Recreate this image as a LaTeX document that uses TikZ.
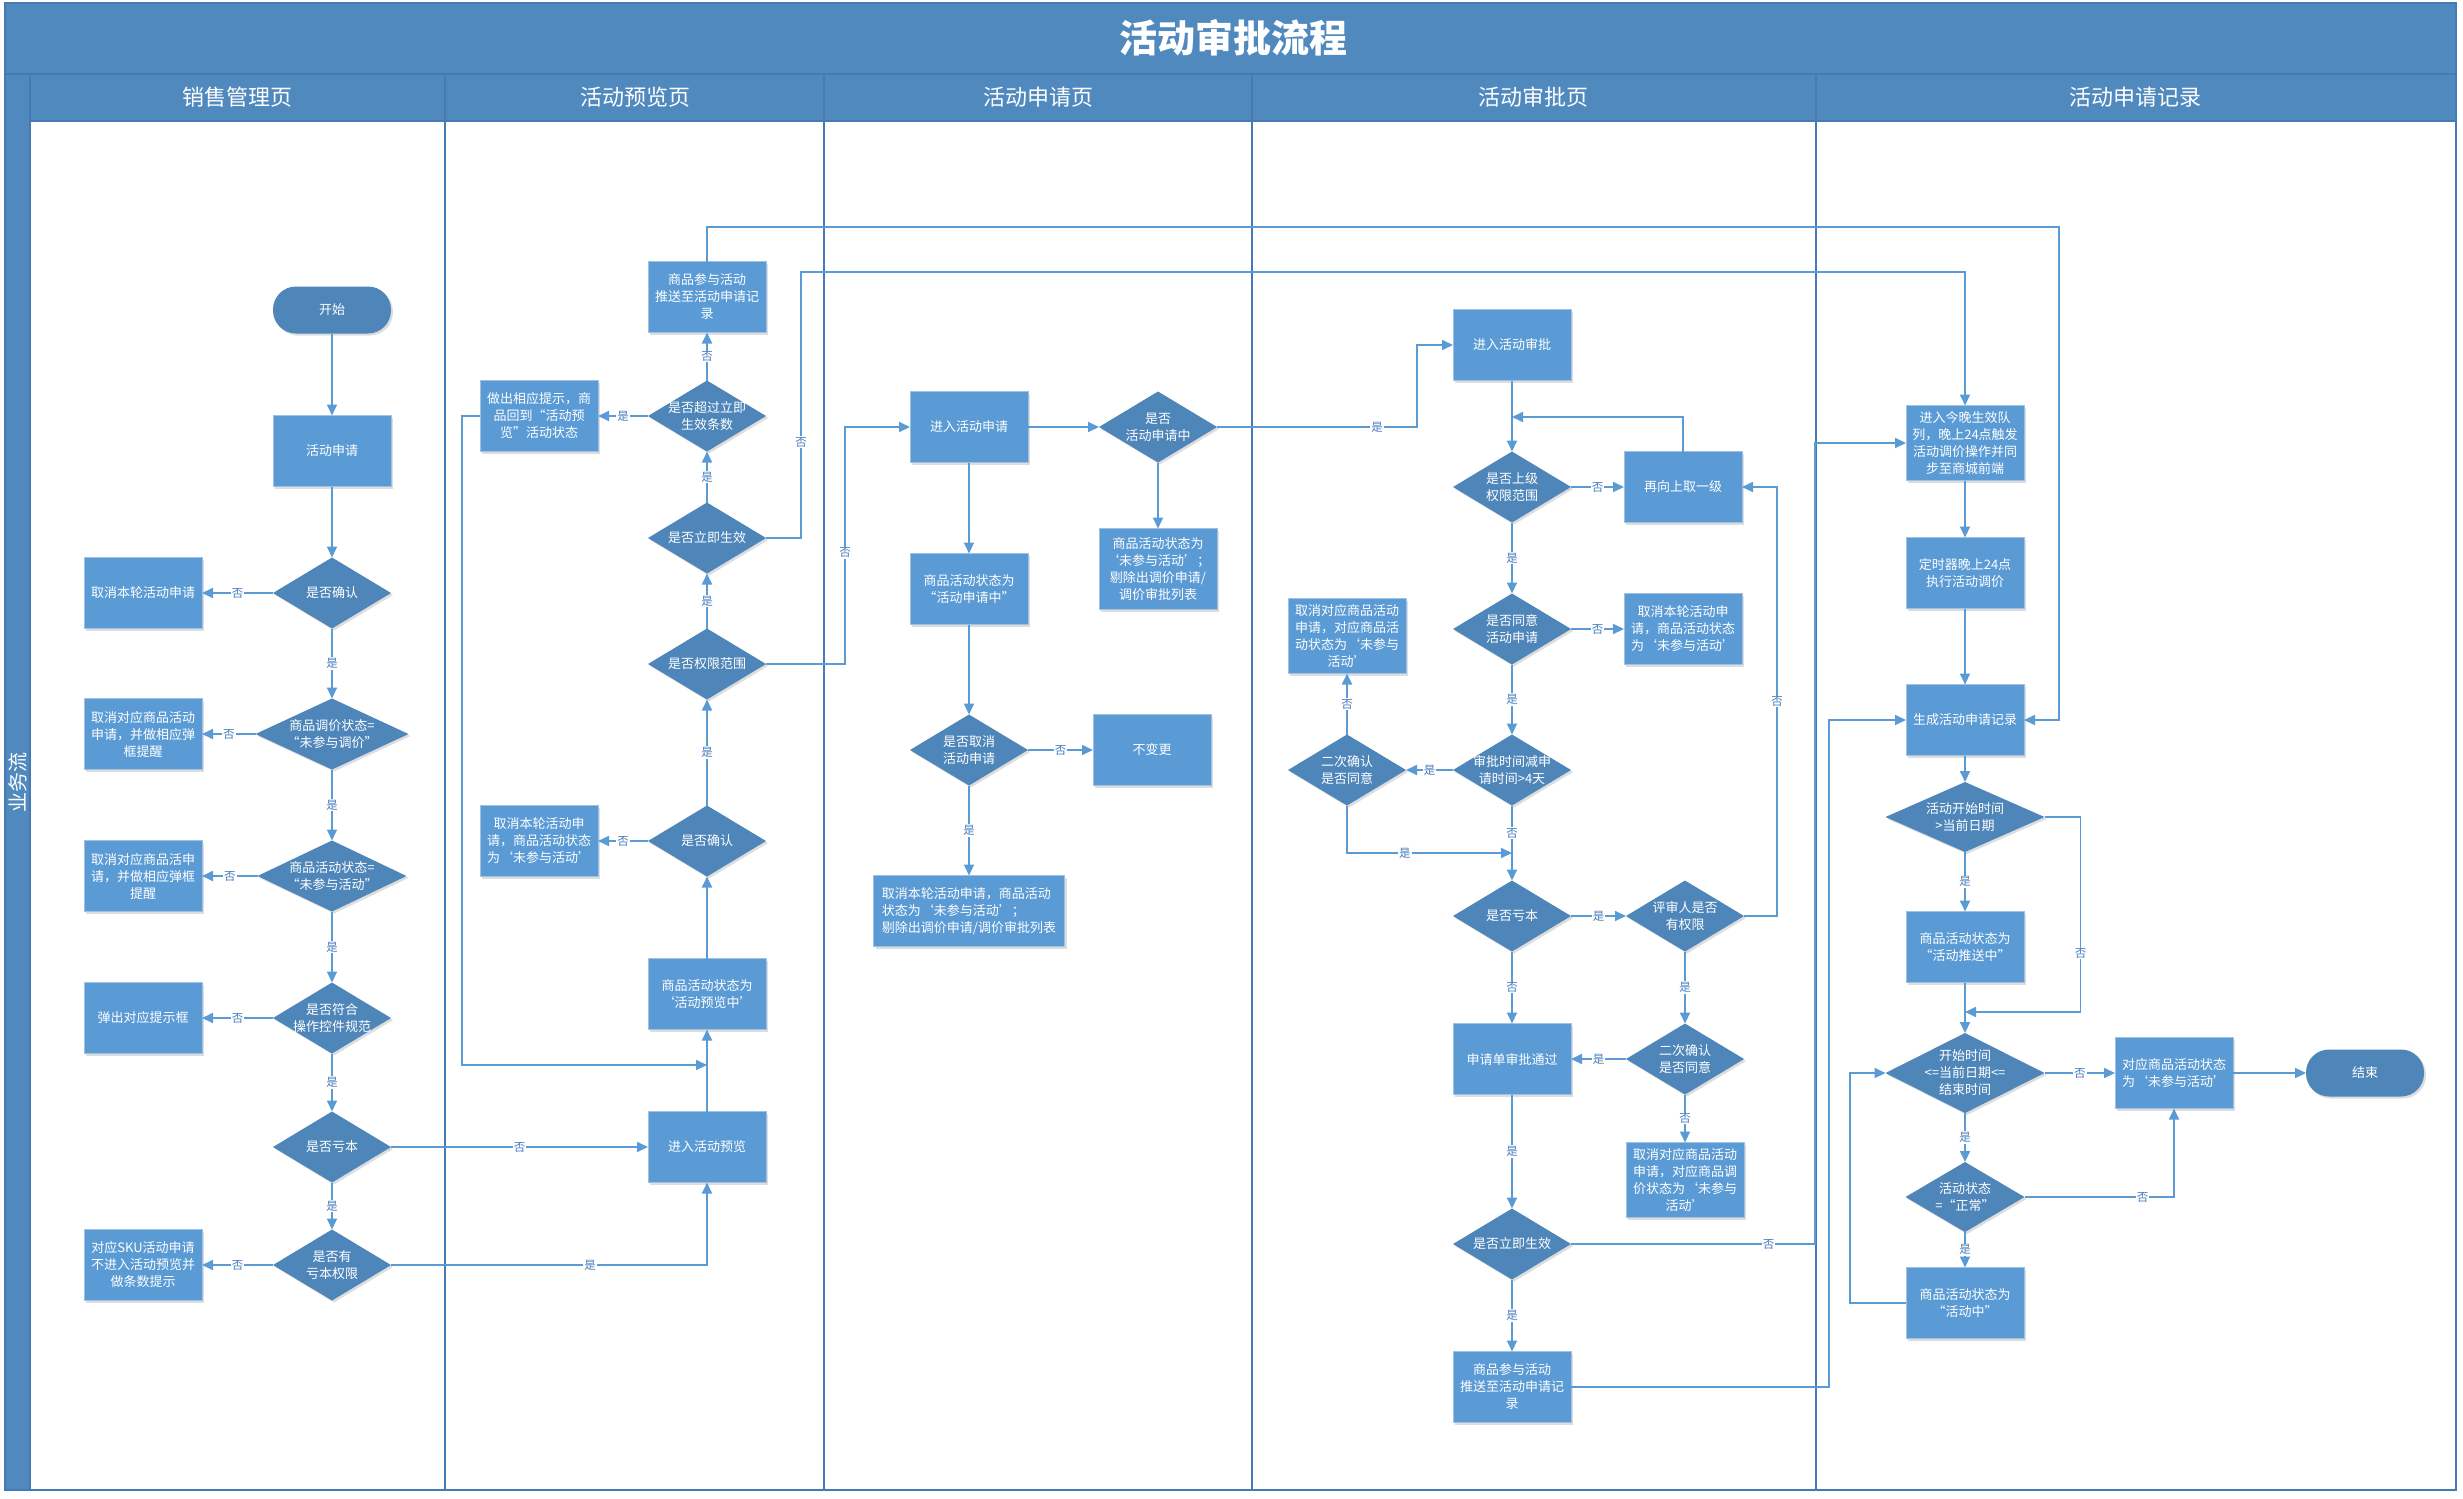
\documentclass[tikz,border=0pt]{standalone}
\usepackage{fontspec}
\setmainfont{Noto Sans CJK SC}
\usetikzlibrary{arrows.meta,shapes.geometric,shadows,calc}
\definecolor{titleblue}{RGB}{80,137,190}
\definecolor{gridc}{RGB}{70,122,180}
\definecolor{boxblue}{RGB}{91,155,213}
\definecolor{boxedge}{RGB}{160,192,228}
\definecolor{diablue}{RGB}{78,134,186}
\definecolor{lineblue}{RGB}{91,155,213}
\definecolor{lblblue}{RGB}{70,125,190}
\tikzset{
  box/.style={rectangle, fill=boxblue, draw=boxedge, line width=0.8pt, minimum width=118pt, minimum height=71pt, text=white, align=center, font=\fontsize{13}{17}\selectfont, inner sep=2pt, outer sep=0pt, drop shadow={shadow xshift=2pt,shadow yshift=-2pt,opacity=0.22,fill=black!60}},
  diam/.style={diamond, fill=diablue, inner sep=0pt, outer sep=0pt, minimum width=118pt, minimum height=71pt, drop shadow={shadow xshift=2pt,shadow yshift=-2pt,opacity=0.22,fill=black!60}},
  dtext/.style={text=white, align=center, font=\fontsize{13}{17}\selectfont, inner sep=0pt},
  termnode/.style={rectangle, rounded corners=23pt, fill=diablue, minimum width=118pt, minimum height=47pt, text=white, font=\fontsize{13}{17}\selectfont, outer sep=0pt, drop shadow={shadow xshift=2pt,shadow yshift=-2pt,opacity=0.22,fill=black!60}},
  conn/.style={draw=lineblue, line width=1.8pt, -{Triangle[length=11pt,width=10pt]}},
  lbl/.style={fill=white, text=lblblue, font=\fontsize{11.5}{11.5}\selectfont, inner sep=1pt},
  lanehead/.style={text=white, font=\fontsize{22}{22}\selectfont},
}
\newcommand\dnode[4][]{\node[diam,#1] (#2) at (#3) {}; \node[dtext] at (#2.center) {#4};}
\begin{document}
\begin{tikzpicture}[x=1pt,y=-1pt]
\useasboundingbox (0,0) rectangle (2463,1499);
\fill[white] (0,0) rectangle (2463,1499);
% frame
\fill[titleblue] (5,3) rectangle (2456,121);
\fill[titleblue] (5,3) rectangle (30,1490);
\draw[gridc, line width=1.5pt] (5,3) rectangle (2456,1490);
\draw[gridc, line width=1.2pt] (5,74) -- (2456,74);
\draw[gridc, line width=1.5pt] (30,74) -- (30,1490);
\draw[gridc, line width=1.5pt] (30,121) -- (2456,121);
\foreach \xx in {445,824,1252,1816} {\draw[gridc, line width=2.2pt] (\xx,74) -- (\xx,1490);}
\node[text=white, font=\bfseries\fontsize{38}{38}\selectfont] (title) at (1233,38) {活动审批流程};
\node[lanehead] (h1) at (237,97) {销售管理页};
\node[lanehead] (h2) at (635,97) {活动预览页};
\node[lanehead] (h3) at (1038,97) {活动申请页};
\node[lanehead] (h4) at (1533,97) {活动审批页};
\node[lanehead] (h5) at (2135,97) {活动申请记录};
\node[text=white, font=\fontsize{20}{20}\selectfont, rotate=90] (band) at (18,782) {业务流};

% ---------- lane 1
\node[termnode] (kaishi) at (332,310) {开始};
\node[box] (sq) at (332,451) {活动申请};
\dnode{qr1}{332,593}{是否确认}
\node[box] (qx1) at (143,593) {取消本轮活动申请};
\dnode[minimum width=153pt]{tj}{332,734}{商品调价状态=\\“未参与调价”}
\node[box] (qx1b) at (143,734) {取消对应商品活动\\申请，并做相应弹\\框提醒};
\dnode[minimum width=149pt]{zt}{332,876}{商品活动状态=\\“未参与活动”}
\node[box] (qx1c) at (143,876) {取消对应商品活申\\请，并做相应弹框\\提醒};
\dnode{fh}{332,1018}{是否符合\\操作控件规范}
\node[box] (tc) at (143,1018) {弹出对应提示框};
\dnode{kb1}{332,1147}{是否亏本}
\dnode{yq}{332,1265}{是否有\\亏本权限}
\node[box] (sku) at (143,1265) {对应SKU活动申请\\不进入活动预览并\\做条数提示};

% ---------- lane 2
\node[box] (cy2) at (707,297) {商品参与活动\\推送至活动申请记\\录};
\dnode{cg}{707,416}{是否超过立即\\生效条数}
\node[box] (zc2) at (539,416) {做出相应提示，商\\品回到“活动预\\览”活动状态};
\dnode{lz2}{707,538}{是否立即生效}
\dnode{qx2}{707,664}{是否权限范围}
\dnode{qr2}{707,841}{是否确认}
\node[box] (qxb2) at (539,841) {取消本轮活动申\\请，商品活动状态\\为‘未参与活动’};
\node[box] (ylz) at (707,994) {商品活动状态为\\‘活动预览中’};
\node[box] (jryl) at (707,1147) {进入活动预览};
\coordinate (m1) at (707,1065);

% ---------- lane 3
\node[box] (jrsq) at (969,427) {进入活动申请};
\dnode{sqz}{1158,427}{是否\\活动申请中}
\node[box, minimum height=81pt] (wcy3) at (1158,569) {商品活动状态为\\‘未参与活动’；\\剔除出调价申请/\\调价审批列表};
\node[box] (sqzt) at (969,589) {商品活动状态为\\“活动申请中”};
\dnode{qxsq}{969,750}{是否取消\\活动申请}
\node[box] (bbg) at (1152,750) {不变更};
\node[box, minimum width=191pt, align=left] (qx3) at (969,911) {取消本轮活动申请，商品活动\\状态为‘未参与活动’；\\剔除出调价申请/调价审批列表};

% ---------- lane 4
\node[box] (jrsp) at (1512,345) {进入活动审批};
\dnode{sjqx}{1512,487}{是否上级\\权限范围}
\node[box] (zxq) at (1683,487) {再向上取一级};
\coordinate (m2) at (1512,417);
\dnode{tyh}{1512,629}{是否同意\\活动申请}
\node[box] (qx4a) at (1683,629) {取消本轮活动申\\请，商品活动状态\\为‘未参与活动’};
\node[box, minimum height=75pt] (qx4b) at (1347,636) {取消对应商品活动\\申请，对应商品活\\动状态为‘未参与\\活动’};
\dnode{ec1}{1347,770}{二次确认\\是否同意}
\dnode{sj4}{1512,770}{审批时间减申\\请时间>4天}
\coordinate (m3) at (1512,853);
\dnode{kb4}{1512,916}{是否亏本}
\dnode{ps}{1685,916}{评审人是否\\有权限}
\node[box] (tg) at (1512,1059) {申请单审批通过};
\dnode{ec2}{1685,1059}{二次确认\\是否同意}
\node[box, minimum height=75pt] (qx4c) at (1685,1180) {取消对应商品活动\\申请，对应商品调\\价状态为‘未参与\\活动’};
\dnode{lz4}{1512,1244}{是否立即生效}
\node[box] (cy4) at (1512,1387) {商品参与活动\\推送至活动申请记\\录};

% ---------- lane 5
\node[box, minimum height=75pt] (jrjw) at (1965,443) {进入今晚生效队\\列，晚上24点触发\\活动调价操作并同\\步至商城前端};
\node[box] (dsq) at (1965,573) {定时器晚上24点\\执行活动调价};
\node[box] (scjl) at (1965,720) {生成活动申请记录};
\dnode[minimum width=159pt, minimum height=70pt]{ks}{1965,817}{活动开始时间\\>当前日期}
\node[box] (tsz) at (1965,947) {商品活动状态为\\“活动推送中”};
\coordinate (m4) at (1965,1012);
\dnode[minimum width=159pt, minimum height=80pt]{kssj}{1965,1073}{开始时间\\<=当前日期<=\\结束时间}
\node[box, align=left] (dywcy) at (2174,1073) {对应商品活动状态\\为‘未参与活动’};
\node[termnode] (jieshu) at (2365,1073) {结束};
\dnode[minimum width=119pt, minimum height=70pt]{zc}{1965,1197}{活动状态\\=“正常”}
\node[box] (hdz) at (1965,1303) {商品活动状态为\\“活动中”};

% ---------- connectors lane 1
\draw[conn] (kaishi.south) -- (sq.north);
\draw[conn] (sq.south) -- (qr1.north);
\draw[conn] (qr1.west) -- node[lbl]{否} (qx1.east);
\draw[conn] (qr1.south) -- node[lbl]{是} (tj.north);
\draw[conn] (tj.west) -- node[lbl]{否} (qx1b.east);
\draw[conn] (tj.south) -- node[lbl]{是} (zt.north);
\draw[conn] (zt.west) -- node[lbl]{否} (qx1c.east);
\draw[conn] (zt.south) -- node[lbl]{是} (fh.north);
\draw[conn] (fh.west) -- node[lbl]{否} (tc.east);
\draw[conn] (fh.south) -- node[lbl]{是} (kb1.north);
\draw[conn] (kb1.east) -- node[lbl]{否} (jryl.west);
\draw[conn] (kb1.south) -- node[lbl]{是} (yq.north);
\draw[conn] (yq.west) -- node[lbl]{否} (sku.east);
\draw[conn] (yq.east) -| node[lbl,pos=0.315]{是} (jryl.south);

% ---------- connectors lane 2
\draw[conn] (jryl.north) -- (ylz.south);
\draw[conn] (ylz.north) -- (qr2.south);
\draw[conn] (qr2.west) -- node[lbl]{否} (qxb2.east);
\draw[conn] (qr2.north) -- node[lbl]{是} (qx2.south);
\draw[conn] (qx2.north) -- node[lbl]{是} (lz2.south);
\draw[conn] (lz2.north) -- node[lbl]{是} (cg.south);
\draw[conn] (cg.north) -- node[lbl]{否} (cy2.south);
\draw[conn] (cg.west) -- node[lbl]{是} (zc2.east);
\draw[conn] (zc2.west) -- ++(-18,0) |- (m1);
\draw[conn] (lz2.east) -- ++(35,0) coordinate (b1) -- node[lbl,pos=0.36]{否} (b1 |- 0,272) -| (jrjw.north);
\draw[conn] (cy2.north) -- (cy2.north |- 0,227) -| ([xshift=35pt]scjl.east) -- (scjl.east);
\draw[conn] (qx2.east) -- ++(79,0) coordinate (b2) -- node[lbl,pos=0.47]{否} (b2 |- jrsq.west) -- (jrsq.west);

% ---------- connectors lane 3
\draw[conn] (jrsq.east) -- (sqz.west);
\draw[conn] (jrsq.south) -- (sqzt.north);
\draw[conn] (sqz.south) -- (wcy3.north);
\draw[conn] (sqz.east) -- node[lbl,pos=0.8]{是} ++(200,0) |- (jrsp.west);
\draw[conn] (sqzt.south) -- (qxsq.north);
\draw[conn] (qxsq.east) -- node[lbl]{否} (bbg.west);
\draw[conn] (qxsq.south) -- node[lbl]{是} (qx3.north);

% ---------- connectors lane 4
\draw[conn] (jrsp.south) -- (sjqx.north);
\draw[conn] (zxq.north) |- (m2);
\draw[conn] (sjqx.east) -- node[lbl]{否} (zxq.west);
\draw[conn] (sjqx.south) -- node[lbl]{是} (tyh.north);
\draw[conn] (tyh.east) -- node[lbl]{否} (qx4a.west);
\draw[conn] (tyh.south) -- node[lbl]{是} (sj4.north);
\draw[conn] (sj4.west) -- node[lbl]{是} (ec1.east);
\draw[conn] (ec1.north) -- node[lbl]{否} (qx4b.south);
\draw[conn] (ec1.south) |- node[lbl,pos=0.675]{是} (m3);
\draw[conn] (sj4.south) -- node[lbl,pos=0.37]{否} (kb4.north);
\draw[conn] (kb4.east) -- node[lbl]{是} (ps.west);
\draw[conn] (ps.east) -- ++(33,0) coordinate (b3) -- node[lbl]{否} (b3 |- zxq.east) -- (zxq.east);
\draw[conn] (kb4.south) -- node[lbl]{否} (tg.north);
\draw[conn] (ps.south) -- node[lbl]{是} (ec2.north);
\draw[conn] (ec2.west) -- node[lbl]{是} (tg.east);
\draw[conn] (ec2.south) -- node[lbl]{否} (qx4c.north);
\draw[conn] (tg.south) -- node[lbl]{是} (lz4.north);
\draw[conn] (lz4.east) -- node[lbl,pos=0.81]{否} ++(244,0) |- (jrjw.west);
\draw[conn] (lz4.south) -- node[lbl]{是} (cy4.north);
\draw[conn] (cy4.east) -- ++(258,0) |- (scjl.west);

% ---------- connectors lane 5
\draw[conn] (jrjw.south) -- (dsq.north);
\draw[conn] (dsq.south) -- (scjl.north);
\draw[conn] (scjl.south) -- (ks.north);
\draw[conn] (ks.south) -- node[lbl]{是} (tsz.north);
\draw[conn] (ks.east) -- ++(36,0) coordinate (b4) -- node[lbl,pos=0.7]{否} (b4 |- m4) -- (m4);
\draw[conn] (tsz.south) -- (kssj.north);
\draw[conn] (kssj.east) -- node[lbl]{否} (dywcy.west);
\draw[conn] (dywcy.east) -- (jieshu.west);
\draw[conn] (kssj.south) -- node[lbl]{是} (zc.north);
\draw[conn] (zc.east) -| node[lbl,pos=0.395]{否} (dywcy.south);
\draw[conn] (zc.south) -- node[lbl]{是} (hdz.north);
\draw[conn] (hdz.west) -- ++(-56,0) |- (kssj.west);
\end{tikzpicture}
\end{document}
